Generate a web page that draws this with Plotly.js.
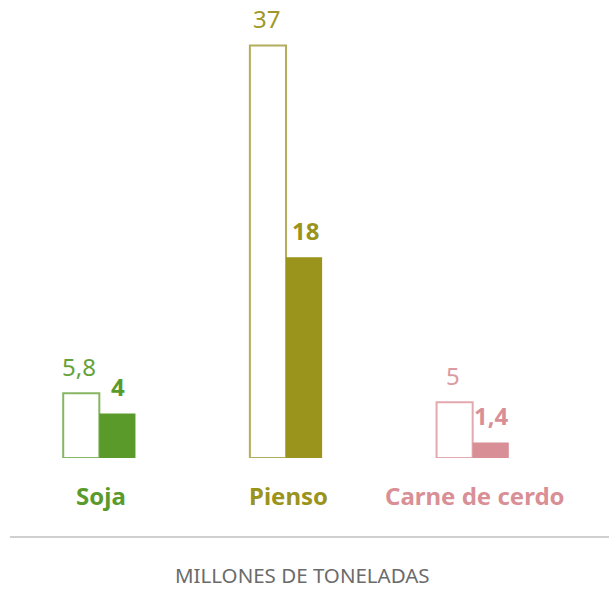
<!DOCTYPE html>
<html><head><meta charset="utf-8">
<script src="https://cdn.plot.ly/plotly-3.0.1.min.js"></script>
<style>html,body{margin:0;padding:0;background:#fff}#chart{width:609px;height:590px}</style>
</head><body><div id="chart"></div>
<script>
var categories = ['Soja', 'Pienso', 'Carne de cerdo'];
var valuesOutline = [5.8, 37, 5];
var valuesFilled = [4, 18, 1.4];
var labelsOutline = ['5,8', '37', '5'];
var labelsFilled = ['4', '18', '1,4'];
var fillColors = ['#5a9a2b', '#9a931c', '#d98f96'];
var outlineColors = ['#86b663', '#b3ae5c', '#e2a9ae'];
var outlineTextColors = ['#66a23a', '#9f9828', '#dd9aa0'];
var unitLabel = 'MILLONES DE TONELADAS';

var FONT = 'Noto Sans, Open Sans, sans-serif';

var traces = [
  {type: 'bar', x: categories, y: valuesOutline, hoverinfo: 'skip',
   marker: {color: '#ffffff', line: {color: outlineColors, width: 2}}},
  {type: 'bar', x: categories, y: valuesFilled, hoverinfo: 'skip',
   marker: {color: fillColors, line: {width: 0}}}
];

var annotations = [];
categories.forEach(function (c, i) {
  annotations.push({x: c, y: valuesOutline[i], xref: 'x', yref: 'y', xshift: -20, yshift: 8,
    yanchor: 'bottom', showarrow: false, text: labelsOutline[i],
    font: {family: FONT, size: 24, color: outlineTextColors[i]}});
  annotations.push({x: c, y: valuesFilled[i], xref: 'x', yref: 'y', xshift: 19, yshift: 8,
    yanchor: 'bottom', showarrow: false, text: '<b>' + labelsFilled[i] + '</b>',
    font: {family: FONT, size: 24, color: fillColors[i]}});
  annotations.push({x: c, y: 0, xref: 'x', yref: 'y', xshift: 2, yshift: -19,
    yanchor: 'top', showarrow: false, text: '<b>' + c + '</b>',
    font: {family: FONT, size: 24, color: fillColors[i]}});
});
annotations.push({x: 0.5286, y: -0.2623, xref: 'paper', yref: 'paper', yanchor: 'middle',
  showarrow: false, borderpad: 0, text: unitLabel, font: {family: FONT, size: 20.5, color: '#6b6b6b'}});

var layout = {
  width: 609, height: 590,
  margin: {l: 6, r: 43, t: 12, b: 132},
  paper_bgcolor: '#fff', plot_bgcolor: '#fff',
  barmode: 'group', bargap: 0.613, bargroupgap: 0,
  showlegend: false,
  xaxis: {type: 'category', range: [-0.5, 2.5], showticklabels: false, showgrid: false,
          zeroline: false, showline: false, ticks: ''},
  yaxis: {range: [0, 40], visible: false, showgrid: false, zeroline: false},
  shapes: [{type: 'line', xref: 'paper', yref: 'paper', x0: 0.007, x1: 1.1, y0: -0.177, y1: -0.177,
            line: {color: '#d0d0d0', width: 2}}],
  annotations: annotations
};

Plotly.newPlot('chart', traces, layout, {displayModeBar: false, staticPlot: true});
</script></body></html>
